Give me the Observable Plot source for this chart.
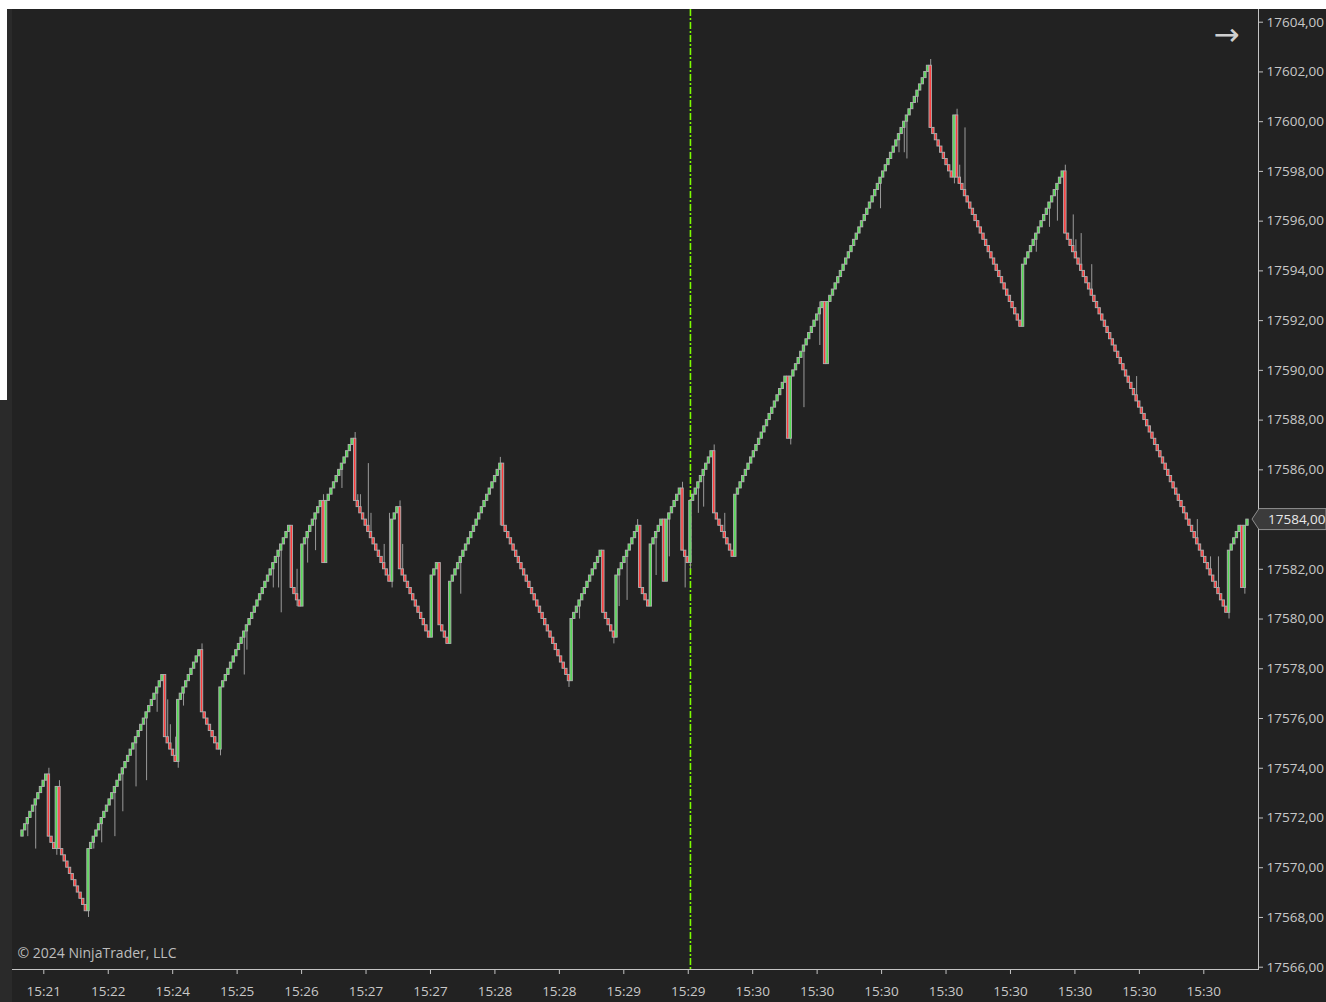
<!DOCTYPE html>
<html><head><meta charset="utf-8">
<script src="https://cdn.jsdelivr.net/npm/d3@7"></script>
<script src="https://cdn.jsdelivr.net/npm/@observablehq/plot@0.6"></script>
<style>
html,body{margin:0;padding:0;background:#ffffff;}
#strip{position:absolute;left:0;top:400px;width:12px;height:602px;background:#2a2a2a;}
#wrap{position:absolute;left:7px;top:9px;width:1319px;height:993px;background:#222222;overflow:hidden;box-shadow: inset 5px 0 0 #2a2a2a;}
#wrap svg{position:absolute;left:0;top:0;}
</style></head><body><div id="strip"></div><div id="wrap"></div>
<script>
// ---- data ----
const basePrice = 17566;
const tickSize = 0.25;
// close of every bar, in ticks above basePrice
const closeTicks = [
22,23,24,25,26,27,28,29,30,31,21,20,19,29,19,18,17,16,15,14,13,12,11,10,9,19,
20,21,22,23,24,25,26,27,28,29,30,31,32,33,34,35,36,37,38,39,40,41,42,43,44,45,46,47,
37,36,35,34,33,43,44,45,46,47,48,49,50,51,41,40,39,38,37,36,35,45,
46,47,48,49,50,51,52,53,54,55,56,57,58,59,60,61,62,63,64,65,66,67,68,69,70,71,
61,60,59,58,68,69,70,71,72,73,74,75,65,75,
76,77,78,79,80,81,82,83,84,85,75,
74,73,72,71,70,69,68,67,66,65,64,63,62,72,73,74,64,
63,62,61,60,59,58,57,56,55,54,53,63,64,65,55,54,53,52,62,
63,64,65,66,67,68,69,70,71,72,73,74,75,76,77,78,79,80,81,71,
70,69,68,67,66,65,64,63,62,61,60,59,58,57,56,55,54,53,52,51,50,49,48,47,46,56,
57,58,59,60,61,62,63,64,65,66,67,57,56,55,54,53,63,
64,65,66,67,68,69,70,71,61,60,59,58,68,69,70,71,72,62,72,73,74,75,76,77,67,66,65,75,
76,77,78,79,80,81,82,83,73,72,71,70,69,68,67,66,76,
77,78,79,80,81,82,83,84,85,86,87,88,89,90,91,92,93,94,95,85,95,
96,97,98,99,100,101,102,103,104,105,106,107,97,107,
108,109,110,111,112,113,114,115,116,117,118,119,120,121,122,123,124,125,126,127,128,129,130,131,132,133,134,135,136,137,138,139,140,141,142,143,144,145,135,
134,133,132,131,130,129,128,127,137,127,
126,125,124,123,122,121,120,119,118,117,116,115,114,113,112,111,110,109,108,107,106,105,104,103,113,
114,115,116,117,118,119,120,121,122,123,124,125,126,127,128,118,
117,116,115,114,113,112,111,110,109,108,107,106,105,104,103,102,101,100,99,98,
97,96,95,94,93,92,91,90,89,88,87,86,85,84,83,82,81,80,79,78,
77,76,75,74,73,72,71,70,69,68,67,66,65,64,63,62,61,60,59,58,57,
67,68,69,70,71,61,71,72
];
// wicks: [bar, low tick, high tick]
const wicks = [
[2,21,24],[5,19,27],[10,21,32],[13,18,29],[14,19,30],[25,8,19],[27,19,21],[30,20,24],
[35,21,29],[38,25,32],[43,29,37],[47,30,41],[51,41,45],[55,36,43],[56,35,39],[58,33,37],
[59,32,43],[61,42,45],[68,41,52],[75,34,45],[84,47,54],[85,51,55],[95,61,65],[97,61,67],
[98,57,68],[104,58,64],[108,65,70],[111,67,73],[114,65,76],[121,77,81],[126,75,86],
[127,74,76],[128,73,76],[131,70,81],[132,69,73],[137,64,68],[139,62,73],[140,61,72],
[143,64,75],[144,63,68],[166,60,66],[181,71,82],[207,45,47],[211,56,59],[224,52,54],
[226,58,64],[229,59,67],[233,71,72],[240,63,70],[245,66,73],[250,67,78],[251,61,67],
[253,64,75],[256,73,78],[258,74,80],[262,73,84],[266,70,73],[291,84,95],[296,90,100],
[302,100,107],[325,122,127],[332,131,134],[334,131,136],[335,130,137],
[339,139,141],[344,135,146],[353,126,137],[354,127,138],[355,126,129],[357,124,135],
[384,115,118],[389,119,123],[392,120,126],[395,118,129],[398,115,121],[399,114,117],
[401,112,118],[405,108,113],[422,91,95],[445,68,72],[450,63,66],[453,60,66],[457,56,67],[463,60,71]
];
const timeTickBars = [8.07,32.48,56.89,81.30,105.71,130.12,154.53,178.94,203.35,227.76,252.17,276.58,300.99,325.40,349.81,374.22,398.63,423.04,447.45];
const timeTickLabels = ["15:21","15:22","15:24","15:25","15:26","15:27","15:27","15:28","15:28","15:29","15:29","15:30","15:30","15:30","15:30","15:30","15:30","15:30","15:30"];
const priceTicks = [17566,17568,17570,17572,17574,17576,17578,17580,17582,17584,17586,17588,17590,17592,17594,17596,17598,17600,17602,17604];
const sessionBreakBar = 253;
const copyright = "© 2024 NinjaTrader, LLC";

// ---- derived tables ----
const px = t => basePrice + t * tickSize;
const bars = closeTicks.map((t, i) => {
  const open = px(i ? closeTicks[i - 1] : t - 1);
  const close = px(t);
  return {i, open, close, up: close >= open};
});
const wickData = wicks.map(([i, lo, hi]) => ({i, low: px(lo), high: px(hi)}));
const N = closeTicks.length;
const labelOf = new Map(timeTickBars.map((b, k) => [b, timeTickLabels[k]]));

// ---- layout ----
const W = 1319, H = 993;
const mL = 5, mR = 68, mT = 0, mB = 33;
const firstX = 15, lastX = 1240;               // centres of first / last bar
const step = (lastX - firstX) / (N - 1);
const xDomain = [-(firstX - mL) / step, (N - 1) + ((W - mR) - lastX) / step];
const pxPerPt = 24.868;
const yDomain = [17566 - (H - mB - 957.7) / pxPerPt, 17604 + 12.7 / pxPerPt];
const font = "'Open Sans', 'Noto Sans', sans-serif";

const chart = Plot.plot({
  width: W, height: H,
  marginLeft: mL, marginRight: mR, marginTop: mT, marginBottom: mB,
  style: {background: "transparent", color: "#c8c8c8", fontFamily: font, fontSize: "13.5px"},
  x: {domain: xDomain, axis: null},
  y: {domain: yDomain, axis: null},
  marks: [
    Plot.ruleX([sessionBreakBar], {stroke: "#7cfc00", strokeWidth: 1.6, strokeDasharray: "7,2,2,2"}),
    Plot.ruleX(wickData, {x: "i", y1: "low", y2: "high", stroke: "#9a9a9a", strokeWidth: 1}),
    Plot.rect(bars, {
      x1: d => d.i - 0.46, x2: d => d.i + 0.46, y1: "open", y2: "close",
      fill: d => d.up ? "#52dc52" : "#ff3c3c",
      stroke: "#b0b0b0", strokeWidth: 0.9
    }),
    Plot.frame({anchor: "bottom", stroke: "#c4c4c4"}),
    Plot.frame({anchor: "right", stroke: "#c4c4c4"}),
    Plot.axisY(priceTicks, {anchor: "right", label: null, tickSize: 4, tickPadding: 4,
      tickFormat: d => d.toFixed(2).replace(".", ","), fontSize: 13.5, fill: "#c8c8c8", stroke: "#c4c4c4"}),
    Plot.axisX(timeTickBars, {anchor: "bottom", label: null, tickSize: 5, tickPadding: 12,
      tickFormat: d => labelOf.get(d), fontSize: 13.5, fill: "#c8c8c8", stroke: "#c4c4c4"}),
    Plot.text([copyright], {frameAnchor: "bottom-left", dx: 5, dy: -12, textAnchor: "start",
      lineAnchor: "bottom", fill: "#bdbdbd", fontSize: 14}),
    Plot.text(["→"], {frameAnchor: "top-right", dx: -32, dy: 26, textAnchor: "middle",
      lineAnchor: "middle", fill: "#cfcfcf", fontSize: 31, fontFamily: "DejaVu Sans"})
  ]
});

// current price marker on the axis
const last = bars[N - 1].close;
const yPos = chart.scale("y").apply(last);
const xr = W - mR;
const svg = d3.select(chart);
const g = svg.append("g");
g.append("path")
  .attr("d", `M${xr - 6},${yPos} L${xr + 1},${yPos - 10.5} L${W},${yPos - 10.5} L${W},${yPos + 10.5} L${xr + 1},${yPos + 10.5} Z`)
  .attr("fill", "#3b3b3b").attr("stroke", "#8e8e8e").attr("stroke-width", 1);
g.append("text").attr("x", xr + 10).attr("y", yPos).attr("dy", "0.35em")
  .attr("text-anchor", "start")
  .attr("fill", "#e8e8e8").attr("font-size", 13.5).attr("font-family", font)
  .text(last.toFixed(2).replace(".", ","));

document.getElementById("wrap").appendChild(chart);
</script></body></html>
